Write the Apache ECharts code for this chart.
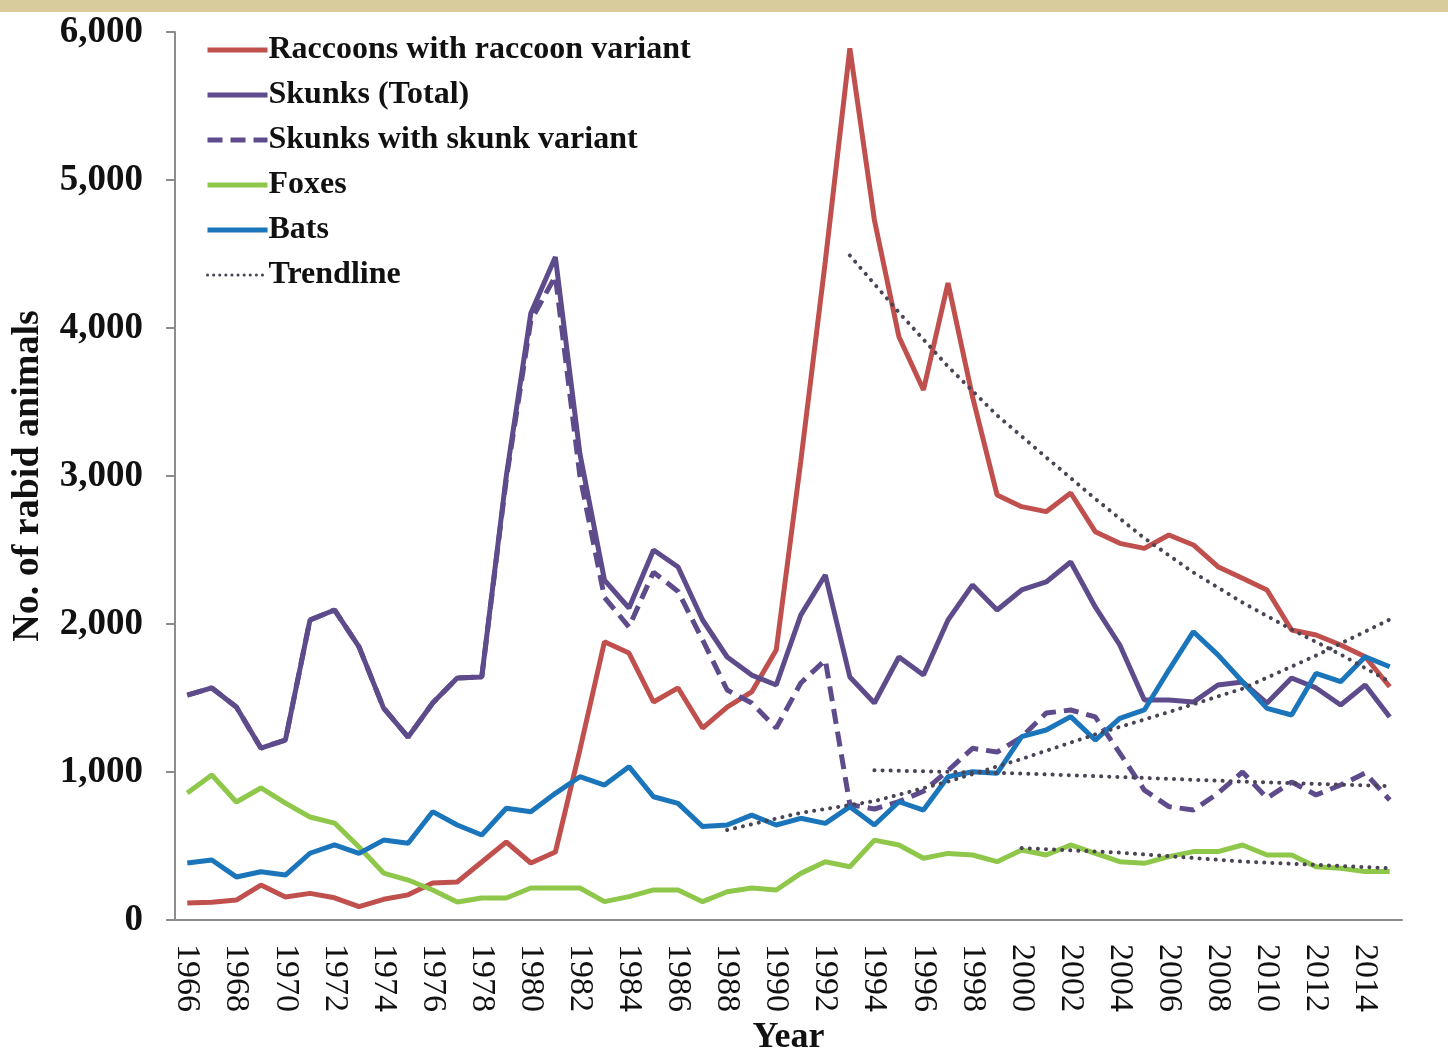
<!DOCTYPE html>
<html>
<head>
  <meta charset="utf-8">
  <script src="https://cdn.jsdelivr.net/npm/echarts@6/dist/echarts.min.js"></script>
  <style>
    body { margin: 0; background: #fff; }
    #topband { position: absolute; left: 0; top: 0; width: 1448px; height: 12px; background: #d8cc9c; }
    #chart { width: 1448px; height: 1056px; }
  </style>
</head>
<body>
  <div id="topband"></div>
  <div id="chart"></div>
  <script type="text/javascript">
    var years = ['1966', '1967', '1968', '1969', '1970', '1971', '1972', '1973', '1974', '1975',
      '1976', '1977', '1978', '1979', '1980', '1981', '1982', '1983', '1984', '1985',
      '1986', '1987', '1988', '1989', '1990', '1991', '1992', '1993', '1994', '1995',
      '1996', '1997', '1998', '1999', '2000', '2001', '2002', '2003', '2004', '2005',
      '2006', '2007', '2008', '2009', '2010', '2011', '2012', '2013', '2014', '2015'];

    // values, 1966..2015
    var raccoons = [115, 120, 135, 236, 155, 180, 150, 90, 140, 170,
      250, 257, 392, 527, 385, 459, 1150, 1880, 1804, 1473,
      1568, 1297, 1439, 1541, 1824, 3100, 4450, 5890, 4730, 3941,
      3581, 4304, 3534, 2872, 2793, 2759, 2885, 2624, 2545, 2511,
      2601, 2534, 2387, 2309, 2230, 1959, 1926, 1858, 1779, 1576];
    var skunksTotal = [1520, 1568, 1439, 1162, 1216, 2027, 2095, 1845, 1432, 1236,
      1466, 1635, 1642, 3000, 4100, 4480, 3150, 2297, 2108, 2500,
      2385, 2027, 1777, 1655, 1588, 2060, 2331, 1642, 1466, 1777,
      1655, 2027, 2264, 2095, 2230, 2284, 2419, 2115, 1858, 1486,
      1486, 1473, 1588, 1608, 1466, 1635, 1568, 1453, 1588, 1372];
    var skunkVariant = [1520, 1568, 1439, 1162, 1216, 2027, 2095, 1845, 1432, 1236,
      1466, 1635, 1642, 2980, 4050, 4350, 3000, 2180, 1980, 2350,
      2220, 1892, 1554, 1466, 1297, 1601, 1757, 780, 750, 800,
      870, 1010, 1160, 1135, 1236, 1398, 1419, 1372, 1128, 878,
      766, 743, 856, 1000, 824, 932, 845, 912, 993, 811];
    var foxes = [858, 980, 797, 892, 790, 696, 655, 493, 317, 270,
      203, 122, 149, 149, 216, 216, 216, 124, 158, 203,
      203, 124, 191, 216, 203, 315, 394, 360, 540, 507,
      417, 450, 439, 394, 473, 439, 507, 450, 394, 383,
      428, 462, 462, 507, 439, 439, 360, 349, 327, 327];
    var bats = [385, 405, 291, 326, 304, 451, 507, 450, 540, 518,
      732, 642, 574, 755, 732, 856, 968, 912, 1036, 833,
      788, 631, 642, 709, 642, 687, 653, 766, 642, 799,
      743, 968, 1002, 991, 1239, 1284, 1374, 1216, 1363, 1419,
      1689, 1948, 1791, 1610, 1430, 1385, 1667, 1610, 1779, 1711];

    // trendlines, read at a few years
    var raccoonTrendYears = ['1993', '1995', '1997', '1999', '2001', '2003', '2005', '2007', '2009', '2011', '2013', '2015'];
    var raccoonTrend = [4490, 4105, 3740, 3410, 3126, 2846, 2580, 2348, 2145, 1963, 1794, 1610];
    var skunkTrendYears = ['1994', '2000', '2005', '2009', '2015'];
    var skunkTrend = [1012, 990, 960, 935, 905];
    var batTrendYears = ['1988', '1991', '1994', '1997', '2000', '2003', '2006', '2009', '2012', '2015'];
    var batTrend = [608, 724, 803, 935, 1088, 1254, 1405, 1563, 1787, 2030];
    var foxTrendYears = ['2000', '2004', '2009', '2015'];
    var foxTrend = [486, 455, 395, 350];

    var serif = '"Liberation Serif", "DejaVu Serif", serif';
    var trendColor = '#4b4455';

    function pairs(xs, ys) {
      return xs.map(function (x, i) { return [x, ys[i]]; });
    }

    function trend(name, xs, ys) {
      return {
        name: name,
        type: 'line',
        data: pairs(xs, ys),
        symbol: 'none',
        z: 3,
        lineStyle: { color: trendColor, width: 4, type: [0.1, 8], cap: 'round' }
      };
    }

    var chart = echarts.init(document.getElementById('chart'));
    var option = {
      animation: false,
      backgroundColor: 'transparent',
      grid: { left: 175, right: 46, top: 32, bottom: 136, outerBoundsMode: 'none' },
      legend: {
        orient: 'vertical',
        left: 200,
        top: 29,
        itemWidth: 60,
        itemHeight: 32,
        itemGap: 13,
        itemStyle: { opacity: 0 },
        lineStyle: { width: 5 },
        textStyle: { fontFamily: serif, fontWeight: 'bold', fontSize: 32, color: '#111', padding: [0, 0, 0, -4] },
        data: [
          'Raccoons with raccoon variant',
          'Skunks (Total)',
          'Skunks with skunk variant',
          'Foxes',
          'Bats',
          { name: 'Trendline', lineStyle: { width: 3 } }
        ]
      },
      xAxis: {
        type: 'category',
        data: years,
        boundaryGap: true,
        name: 'Year',
        nameLocation: 'middle',
        nameGap: 98,
        nameTextStyle: { fontFamily: serif, fontWeight: 'bold', fontSize: 36, color: '#111' },
        axisLine: { lineStyle: { color: '#8c8c8c', width: 2 } },
        axisTick: { show: false },
        axisLabel: { interval: 1, rotate: -90, margin: 24, fontFamily: serif, fontSize: 34, color: '#111' }
      },
      yAxis: {
        type: 'value',
        min: 0,
        max: 6000,
        interval: 1000,
        name: 'No. of rabid animals',
        nameLocation: 'middle',
        nameGap: 128,
        nameTextStyle: { fontFamily: serif, fontWeight: 'bold', fontSize: 38, color: '#111' },
        axisLine: { show: true, lineStyle: { color: '#8c8c8c', width: 2 } },
        axisTick: { show: true, length: 9, lineStyle: { color: '#8c8c8c', width: 2 } },
        splitLine: { show: false },
        axisLabel: {
          margin: 32,
          fontFamily: serif, fontWeight: 'bold', fontSize: 37, color: '#111',
          formatter: function (v) { return v.toLocaleString('en-US'); }
        }
      },
      series: [
        {
          name: 'Raccoons with raccoon variant', type: 'line', data: raccoons, symbol: 'none',
          itemStyle: { color: '#c0504d' }, lineStyle: { color: '#c0504d', width: 5 }
        },
        {
          name: 'Skunks (Total)', type: 'line', data: skunksTotal, symbol: 'none',
          itemStyle: { color: '#5e4b8b' }, lineStyle: { color: '#5e4b8b', width: 5 }
        },
        {
          name: 'Skunks with skunk variant', type: 'line', data: skunkVariant, symbol: 'none',
          itemStyle: { color: '#5e4b8b' }, lineStyle: { color: '#5e4b8b', width: 5, type: [15, 8] }
        },
        {
          name: 'Foxes', type: 'line', data: foxes, symbol: 'none',
          itemStyle: { color: '#8fc74a' }, lineStyle: { color: '#8fc74a', width: 5 }
        },
        {
          name: 'Bats', type: 'line', data: bats, symbol: 'none',
          itemStyle: { color: '#1b75bb' }, lineStyle: { color: '#1b75bb', width: 5 }
        },
        {
          name: 'Trendline', type: 'line', data: [], symbol: 'none',
          itemStyle: { color: trendColor }, lineStyle: { color: trendColor, width: 3, type: [0.1, 6], cap: 'round' }
        },
        trend('Raccoon trend', raccoonTrendYears, raccoonTrend),
        trend('Skunk trend', skunkTrendYears, skunkTrend),
        trend('Bat trend', batTrendYears, batTrend),
        trend('Fox trend', foxTrendYears, foxTrend)
      ]
    };
    chart.setOption(option);
  </script>
</body>
</html>
